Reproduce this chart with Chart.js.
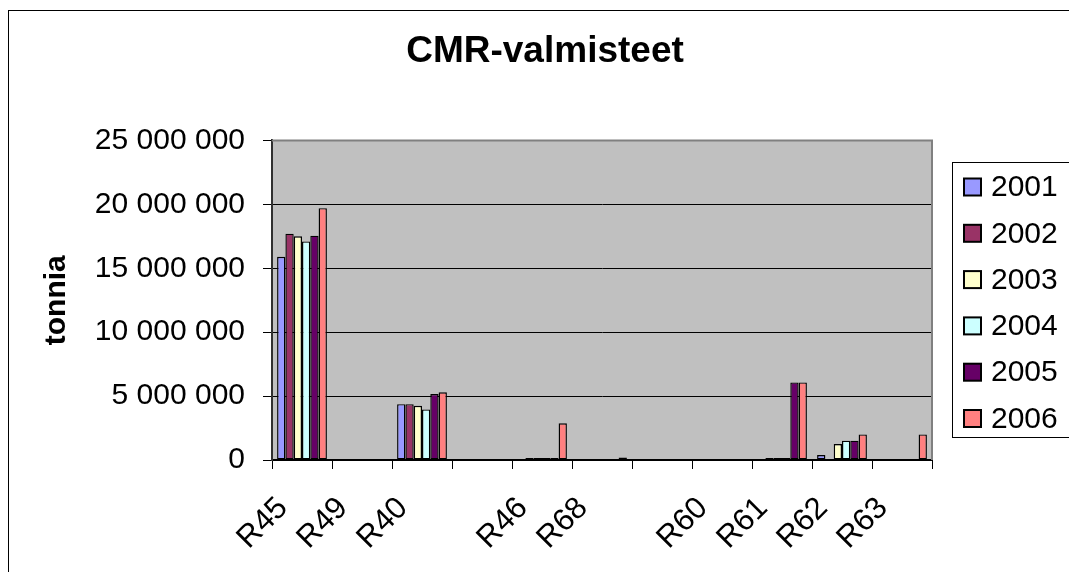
<!DOCTYPE html>
<html>
<head>
<meta charset="utf-8">
<title>CMR-valmisteet</title>
<script src="https://cdn.jsdelivr.net/npm/chart.js"></script>
<style>
  body { margin: 0; background: #fff; }
  #wrap { width: 1069px; height: 572px; }
</style>
</head>
<body>
<div id="wrap"><canvas id="cmrChart" width="1069" height="572"></canvas></div>
<script>
// categories (two have no name in the source)
const categories = ['R45', 'R49', 'R40', '', 'R46', 'R68', '', 'R60', 'R61', 'R62', 'R63'];
const years = ['2001', '2002', '2003', '2004', '2005', '2006'];

// tonnes per year
const v2001 = [15900000, null, 4370000, null, null, null, null, null, null, 390000, null];
const v2002 = [17700000, null, 4370000, null, 150000, null, null, null, 150000, null, null];
const v2003 = [17500000, null, 4240000, null, 150000, null, null, null, 150000, 1250000, null];
const v2004 = [17100000, null, 3960000, null, 150000, null, null, null, 150000, 1510000, null];
const v2005 = [17550000, null, 5160000, null, 150000, null, null, null, 6070000, 1510000, null];
const v2006 = [19700000, null, 5290000, null, 2870000, 200000, null, null, 6070000, 2000000, 2000000];

const yTicks = [0, 5000000, 10000000, 15000000, 20000000, 25000000];

const colors = ['#9999FF', '#993366', '#FFFFCC', '#CCFFFF', '#660066', '#FF8080'];
const seriesValues = [v2001, v2002, v2003, v2004, v2005, v2006];

const FONT = "Arial, 'Liberation Sans', sans-serif";

function fmt(n) {
  return String(n).replace(/\B(?=(\d{3})+(?!\d))/g, ' ');
}

// grey plot area, outer frame, legend box
const frame = {
  id: 'frame',
  afterLayout(chart) {
    // centre the title over the plot + axis area like the original
    const t = chart.titleBlock;
    if (t) { t.left = 158; t.right = 932; }
  },
  beforeDraw(chart) {
    const ctx = chart.ctx;
    const a = chart.chartArea;
    ctx.save();
    ctx.fillStyle = '#fff';
    ctx.fillRect(0, 0, chart.width, chart.height);
    ctx.strokeStyle = '#000';
    ctx.lineWidth = 1;
    ctx.strokeRect(8.5, 10.5, 1200, 700);
    ctx.fillStyle = '#C0C0C0';
    ctx.fillRect(a.left, a.top, a.right - a.left, a.bottom - a.top);
    ctx.restore();
  },
  afterDraw(chart) {
    const ctx = chart.ctx;
    const a = chart.chartArea;
    ctx.save();
    ctx.strokeStyle = '#808080';
    ctx.lineWidth = 2;
    ctx.beginPath();
    ctx.moveTo(a.left, a.top);
    ctx.lineTo(a.right, a.top);
    ctx.lineTo(a.right, a.bottom);
    ctx.stroke();

    // legend
    const lx = 952, ly = 162;
    ctx.fillStyle = '#fff';
    ctx.fillRect(lx, ly, 200, 275);
    ctx.strokeStyle = '#000';
    ctx.lineWidth = 1;
    ctx.strokeRect(lx + 0.5, ly + 0.5, 200, 275);
    ctx.font = '30px ' + FONT;
    ctx.textBaseline = 'middle';
    ctx.textAlign = 'left';
    chart.data.datasets.forEach(function(ds, i) {
      const cy = 187 + i * 46.3;
      ctx.fillStyle = ds.backgroundColor;
      ctx.fillRect(964, cy - 8.5, 17, 17);
      ctx.strokeStyle = '#000';
      ctx.lineWidth = 2;
      ctx.strokeRect(964, cy - 8.5, 17, 17);
      ctx.fillStyle = '#000';
      ctx.fillText(ds.label, 991, cy + 1);
    });
    ctx.restore();
  }
};

const ctx = document.getElementById('cmrChart').getContext('2d');
const chart = new Chart(ctx, {
  type: 'bar',
  data: {
    labels: categories,
    datasets: years.map(function(y, i) {
      return {
        label: y,
        data: seriesValues[i],
        backgroundColor: colors[i],
        borderColor: '#000',
        borderWidth: 1.4,
        borderSkipped: false,
        categoryPercentage: 0.83,
        barPercentage: 1.0
      };
    })
  },
  options: {
    responsive: false,
    animation: false,
    layout: { padding: { left: 0, right: 137, top: 0, bottom: 0 } },
    plugins: {
      legend: { display: false },
      tooltip: { enabled: false },
      title: {
        display: true,
        text: 'CMR-valmisteet',
        color: '#000',
        font: { family: FONT, size: 37, weight: 'bold' },
        padding: { top: 30, bottom: 66 }
      }
    },
    scales: {
      x: {
        grid: { drawOnChartArea: false, drawTicks: true, tickLength: 9, color: '#000', offset: true },
        border: { color: '#000', width: 2 },
        ticks: {
          color: '#000',
          font: { family: FONT, size: 31 },
          minRotation: 45,
          maxRotation: 45,
          autoSkip: false,
          padding: 21,
          labelOffset: -19
        },
        afterFit(scale) { scale.height = 112; }
      },
      y: {
        min: 0,
        max: 25000000,
        afterBuildTicks(scale) { scale.ticks = yTicks.map(function(v) { return { value: v }; }); },
        grid: {
          color: function(c) { return c.tick && c.tick.value === 25000000 ? 'rgba(0,0,0,0)' : '#000'; },
          tickColor: '#000',
          lineWidth: 1,
          tickLength: 9
        },
        border: { color: '#303030', width: 2 },
        ticks: {
          color: '#000',
          font: { family: FONT, size: 30 },
          padding: 18,
          callback: function(v) { return fmt(v); }
        },
        title: {
          display: true,
          text: 'tonnia',
          color: '#000',
          font: { family: FONT, size: 30, weight: 'bold' },
          padding: { top: 39, bottom: 0 }
        },
        afterFit(scale) { scale.width = 272; }
      }
    }
  },
  plugins: [frame]
});
</script>
</body>
</html>
